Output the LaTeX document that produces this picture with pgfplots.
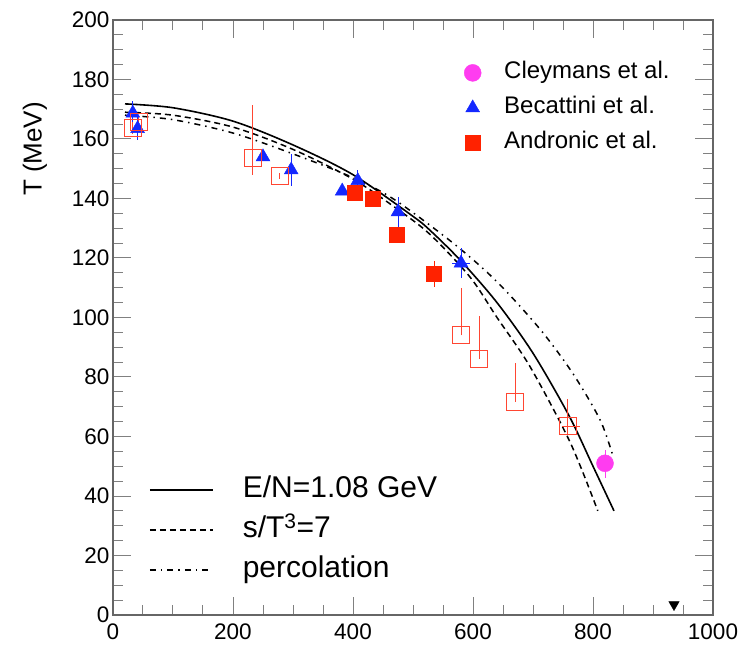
\documentclass[border=0pt]{standalone}
\usepackage{pgfplots}
\pgfplotsset{compat=1.18}
\usepackage{fontspec}
\setmainfont{Liberation Sans}
\definecolor{rfill}{RGB}{255,34,0}
\definecolor{ropen}{RGB}{255,70,50}
\definecolor{bfill}{RGB}{20,40,255}
\definecolor{mfill}{RGB}{255,60,240}
\begin{document}
\begin{tikzpicture}
\useasboundingbox (-113pt,-36pt) rectangle (629pt,615pt);
\begin{axis}[
  at={(0,0)}, anchor=south west,
  scale only axis, width=600pt, height=595pt,
  xmin=0, xmax=1000, ymin=0, ymax=200,
  xtick={0,200,...,1000}, ytick={0,20,...,200},
  minor x tick num=3, minor y tick num=3,
  tick align=inside,
  major tick length=18pt, minor tick length=10pt,
  axis line style={draw=black!60, line width=1.5pt},
  every tick/.style={black!50, line width=1pt},
  tick label style={font=\fontsize{22.5}{24}\selectfont},
  xticklabel style={yshift=-5pt},
  /pgf/number format/assume math mode=true,
  /pgf/number format/1000 sep={},
  ylabel={T (MeV)},
  ylabel style={font=\fontsize{26}{28}\selectfont, at={(axis description cs:-0.13,0.868)}, anchor=east},
  legend cell align=left,
  legend image code/.code={\draw[#1] (0pt,0pt) -- (63pt,0pt);},
  legend style={at={(axis description cs:0.055,0.238)}, anchor=north west, draw=none, fill=none,
    font=\fontsize{30}{32}\selectfont, row sep=11pt,
    nodes={text height=21pt, text depth=6pt, inner sep=1pt},
    /tikz/every odd column/.append style={column sep=28pt}},
]
\addplot[black, line width=1.6pt, smooth] coordinates {
 (20,171.8) (100,170.5) (200,166) (300,158) (400,148) (500,134) (530,129)
 (580,119) (640,105) (700,88) (760,67) (800,50) (835,35)};
\addlegendentry{E/N=1.08 GeV}
\addplot[black, line width=1.5pt, smooth, dash pattern=on 6pt off 4pt] coordinates {
 (20,169) (100,168) (200,164) (300,156.5) (400,146.5) (470,137) (528,128)
 (595,113.6) (640,100) (695,83.5) (762,58) (808,35)};
\addlegendentry{s/T\textsuperscript{3}=7}
\addplot[black, line width=1.5pt, smooth, dash pattern=on 6pt off 5pt on 1.5pt off 5pt] coordinates {
 (20,168) (100,166.5) (200,162) (300,155) (400,147) (470,139.5) (570,124.5)
 (640,112) (712,96) (767,81) (812,65.5) (834,53)};
\addlegendentry{percolation}
\end{axis}
\begin{axis}[
  at={(0,0)}, anchor=south west,
  scale only axis, width=600pt, height=595pt,
  xmin=0, xmax=1000, ymin=0, ymax=200,
  hide axis,
  legend cell align=left,
  legend style={at={(axis description cs:0.58,0.935)}, anchor=north west, draw=none, fill=none,
    font=\fontsize{24}{26}\selectfont, row sep=11pt,
    nodes={text height=17pt, text depth=5pt, inner sep=1pt},
    /tikz/every odd column/.append style={column sep=22pt}},
  error bars/error mark=none,
]
\addplot[only marks, mark=*, mark size=8.5pt, color=mfill,
  error bars/.cd, y dir=both, y explicit, error bar style={line width=1pt, mfill}]
  coordinates {(820,51) += (0,4.5) -= (0,5)};
\addlegendentry{Cleymans et al.}
\addplot[only marks, mark=triangle*, mark size=8pt, color=bfill,
  error bars/.cd, y dir=both, y explicit, x dir=both, x explicit, error bar style={line width=1pt, bfill}]
  coordinates {
 (33,168.7) +- (0,4)
 (41,163.5) +- (0,4)
 (250,154) +- (0,1)
 (297,149.6) +- (0,5.5)
 (382,142.5) +- (0,1)
 (408,146) +- (0,3.5)
 (475,135.5) +- (0,5)
 (580,118.3) +- (15,5)};
\addlegendentry{Becattini et al.}
\addplot[only marks, mark=square*, mark size=7.5pt, color=rfill,
  error bars/.cd, y dir=both, y explicit, x dir=both, x explicit, error bar style={line width=1pt, rfill}]
  coordinates {
 (402,141.8) +- (0,1.5)
 (432,139.8) +- (0,1.5)
 (472,127.7) +- (0,1.5)
 (535,114.6) +- (6,4.5)};
\addlegendentry{Andronic et al.}
\addplot[forget plot, only marks, mark=square, mark size=8.5pt, color=ropen, mark options={line width=1.3pt},
  error bars/.cd, y dir=both, y explicit, x dir=both, x explicit, error bar style={line width=1pt, ropen}]
  coordinates {
 (33,163.7) +- (0,2)
 (43,165.7) +- (0,2)
 (233,153.6) += (0,17.8) -= (0,5.7)
 (278,147.6) +- (0,1)
 (580,94) += (0,16) -= (0,0)
 (610,86) += (0,14.5) -= (0,0)
 (670,71.6) += (0,13) -= (0,0)
 (758,63.5) += (20,9) -= (10,3)};
\addplot[forget plot, only marks, mark=triangle*, mark size=6pt, black, mark options={rotate=180}]
  coordinates {(935,3.5)};
\end{axis}
\end{tikzpicture}
\end{document}
